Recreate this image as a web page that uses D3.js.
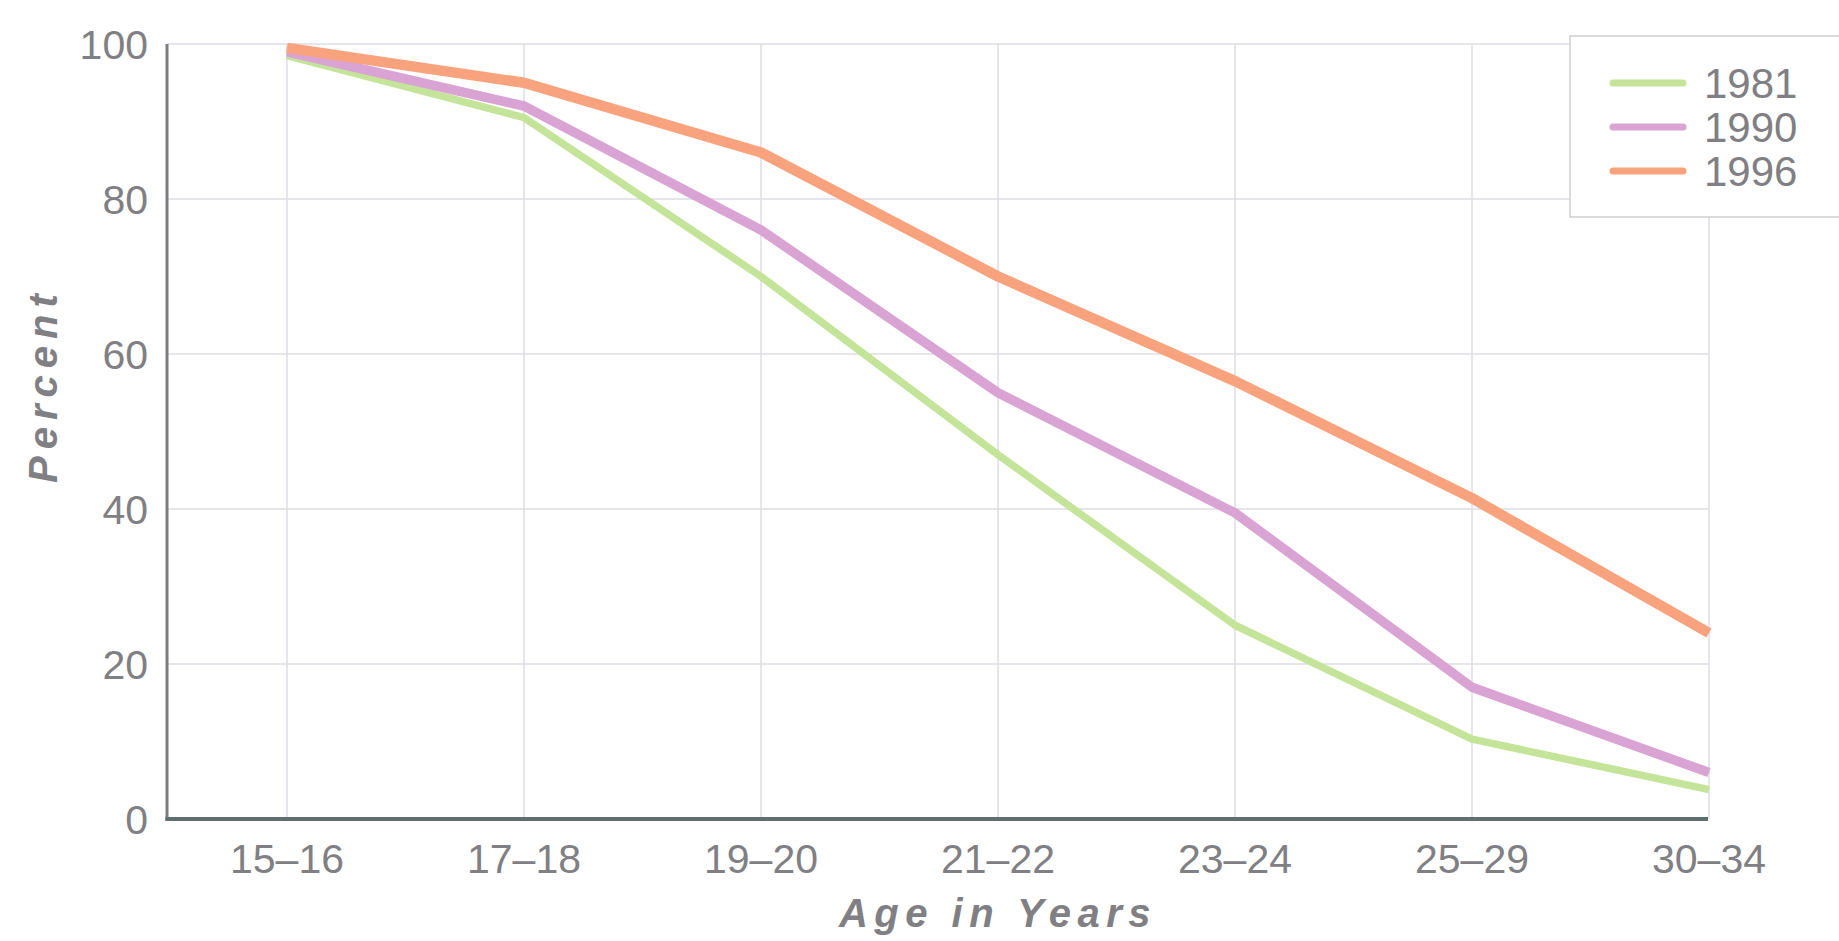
<!DOCTYPE html>
<html><head><meta charset="utf-8">
<script src="https://cdn.jsdelivr.net/npm/d3@7"></script>
<style>html,body{margin:0;padding:0;background:#fff;}svg{display:block;}</style>
</head><body>
<svg id="chart" width="1839" height="941"></svg>
<script>
const categories = ["15–16","17–18","19–20","21–22","23–24","25–29","30–34"];
const years = ["1981","1990","1996"];
const values1981 = [98.5, 90.5, 70, 47, 25, 10.3, 3.8];
const values1990 = [99, 92, 76, 55, 39.5, 17, 6];
const values1996 = [99.5, 95, 86, 70, 56.5, 41.4, 24];
const yTicks = [0, 20, 40, 60, 80, 100];
const colors = ["#c4e49a", "#d9a3d4", "#f8a37d"];
const widths = [7.5, 9.5, 10.5];

(function () {
const series = [values1981, values1990, values1996];
const svg = d3.select("#chart");
const axisLeftX = 167, plotRight = 1708, plotTop = 44, plotBottom = 819;
const step = 237;
const x = d3.scalePoint().domain(categories).range([287, 287 + step * 6]);
const y = d3.scaleLinear().domain([0, 100]).range([plotBottom, plotTop]);

// grid
const g = svg.append("g");
g.selectAll("line.h").data(yTicks.filter(d => d > 0)).join("line")
  .attr("x1", axisLeftX).attr("x2", plotRight)
  .attr("y1", d => y(d)).attr("y2", d => y(d))
  .attr("stroke", "#dcdce4").attr("stroke-width", 1.5);
g.selectAll("line.v").data(categories).join("line")
  .attr("x1", d => x(d)).attr("x2", d => x(d))
  .attr("y1", plotTop).attr("y2", plotBottom)
  .attr("stroke", "#dcdce4").attr("stroke-width", 1.5);

// y axis line
svg.append("line").attr("x1", axisLeftX).attr("x2", axisLeftX)
  .attr("y1", plotTop).attr("y2", plotBottom + 2).attr("stroke", "#7d7d80").attr("stroke-width", 3);

// y tick labels
svg.selectAll("text.yt").data(yTicks).join("text")
  .attr("x", 148).attr("y", d => y(d)).attr("dy", "0.36em")
  .attr("text-anchor", "end").attr("fill", "#808084")
  .attr("font-family", "Liberation Sans, Arial, sans-serif").attr("font-size", 41)
  .text(d => d);

// x tick labels
svg.selectAll("text.xt").data(categories).join("text")
  .attr("x", d => x(d)).attr("y", 873)
  .attr("text-anchor", "middle").attr("fill", "#808084")
  .attr("font-family", "Liberation Sans, Arial, sans-serif").attr("font-size", 41)
  .text(d => d);

// lines
const line = d3.line().x((d, i) => x(categories[i])).y(d => y(d));
series.forEach((s, k) => {
  svg.append("path").datum(s).attr("d", line)
    .attr("fill", "none").attr("stroke", colors[k]).attr("stroke-width", widths[k])
    .attr("stroke-linejoin", "round");
});

// x axis baseline
svg.append("line").attr("x1", axisLeftX - 1.5).attr("x2", plotRight)
  .attr("y1", plotBottom).attr("y2", plotBottom).attr("stroke", "#5f6e6e").attr("stroke-width", 4);

// axis titles
svg.append("text").attr("x", x("21–22")).attr("y", 927)
  .attr("text-anchor", "middle").attr("fill", "#808084")
  .attr("font-family", "Liberation Sans, Arial, sans-serif").attr("font-size", 40)
  .attr("font-weight", "bold").attr("font-style", "italic").attr("letter-spacing", 6.5)
  .text("Age in Years");
svg.append("text").attr("transform", "translate(57,385) rotate(-90)")
  .attr("text-anchor", "middle").attr("fill", "#808084")
  .attr("font-family", "Liberation Sans, Arial, sans-serif").attr("font-size", 40)
  .attr("font-weight", "bold").attr("font-style", "italic").attr("letter-spacing", 7)
  .text("Percent");

// legend
const lg = svg.append("g");
lg.append("rect").attr("x", 1570).attr("y", 36).attr("width", 280).attr("height", 181)
  .attr("fill", "#fff").attr("stroke", "#d0d0d4").attr("stroke-width", 1.5);
years.forEach((yr, k) => {
  const cy = 83 + k * 44;
  lg.append("line").attr("x1", 1613).attr("x2", 1683).attr("y1", cy).attr("y2", cy)
    .attr("stroke", colors[k]).attr("stroke-width", 7).attr("stroke-linecap", "round");
  lg.append("text").attr("x", 1704).attr("y", cy).attr("dy", "0.36em")
    .attr("fill", "#808084").attr("font-family", "Liberation Sans, Arial, sans-serif")
    .attr("font-size", 42).text(yr);
});
})();
</script>
</body></html>
